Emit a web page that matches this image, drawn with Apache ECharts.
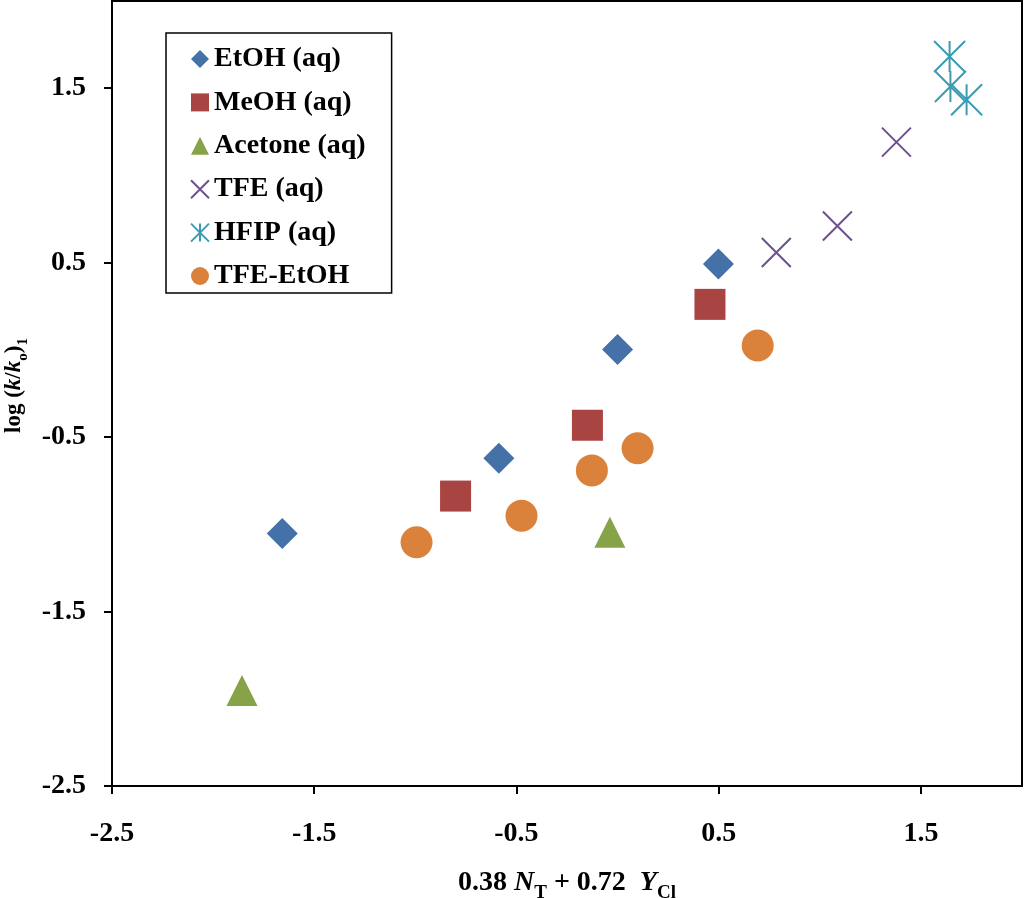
<!DOCTYPE html>
<html>
<head>
<meta charset="utf-8">
<script src="https://cdn.jsdelivr.net/npm/echarts@6/dist/echarts.min.js"></script>
<style>
html,body{margin:0;padding:0;background:#fff;}
#main{width:1024px;height:898px;}
</style>
</head>
<body>
<div id="main"></div>
<script>
// ---- data ----
const xTicks = [-2.5, -1.5, -0.5, 0.5, 1.5];
const yTicks = [-2.5, -1.5, -0.5, 0.5, 1.5];
const etohAq = [[-1.658, -1.052], [-0.587, -0.621], [0.000, 0.002], [0.499, 0.492]];
const meohAq = [[-0.801, -0.838], [-0.149, -0.432], [0.457, 0.261]];
const acetoneAq = [[-1.857, -1.953], [-0.038, -1.045]];
const tfeAq = [[0.785, 0.558], [1.087, 0.710], [1.379, 1.191]];
const hfipAq = [[1.642, 1.682], [1.646, 1.510], [1.726, 1.434]];
const tfeEtoh = [[-0.994, -1.103], [-0.475, -0.951], [-0.127, -0.691], [0.099, -0.564], [0.693, 0.025]];
const seriesNames = ['EtOH (aq)', 'MeOH (aq)', 'Acetone (aq)', 'TFE (aq)', 'HFIP (aq)', 'TFE-EtOH'];

const FONT = '"Liberation Serif", "Times New Roman", serif';
const crossPath = 'path://M0,0L10,10M10,0L0,10';
const starPath = 'path://M0,0L10,10M10,0L0,10M5,0L5,10';

const chart = echarts.init(document.getElementById('main'), null, {renderer: 'canvas'});
chart.setOption({
  animation: false,
  backgroundColor: '#ffffff',
  grid: {left: 112, top: 1, right: 2, bottom: 112, containLabel: false, outerBoundsMode: 'none',
         show: true, borderColor: '#000', borderWidth: 2, backgroundColor: 'transparent'},
  legend: {
    orient: 'vertical', left: 166, top: 33,
    data: seriesNames,
    borderColor: '#000', borderWidth: 1.5, borderRadius: 0,
    padding: [12, 26, 3, 24],
    itemWidth: 18, itemHeight: 18, itemGap: 15.4,
    textStyle: {fontFamily: FONT, fontWeight: 'bold', fontSize: 28, color: '#000', lineHeight: 28},
    selectedMode: false
  },
  xAxis: {
    type: 'value', min: -2.5, max: 2.0, interval: 1,
    axisLine: {onZero: false, lineStyle: {color: '#000', width: 2}},
    axisTick: {show: true, inside: false, length: 8, lineStyle: {color: '#000', width: 2}, customValues: xTicks},
    axisLabel: {customValues: xTicks, margin: 34, fontFamily: FONT, fontWeight: 'bold', fontSize: 28, color: '#000'},
    splitLine: {show: false},
    name: '{n|0.38 }{i|N}{s|T}{n| + 0.72  }{i|Y}{s|Cl}',
    nameLocation: 'middle', nameGap: 81,
    nameTextStyle: {
      rich: {
        n: {fontFamily: FONT, fontWeight: 'bold', fontSize: 28, color: '#000', lineHeight: 30, verticalAlign: 'bottom'},
        i: {fontFamily: FONT, fontWeight: 'bold', fontStyle: 'italic', fontSize: 28, color: '#000', lineHeight: 30, verticalAlign: 'bottom'},
        s: {fontFamily: FONT, fontWeight: 'bold', fontSize: 19, color: '#000', lineHeight: 19, verticalAlign: 'bottom', padding: [0, 0, -6, 0]}
      }
    }
  },
  yAxis: {
    type: 'value', min: -2.5, max: 2.0, interval: 1,
    axisLine: {onZero: false, lineStyle: {color: '#000', width: 2}},
    axisTick: {show: true, inside: false, length: 8, lineStyle: {color: '#000', width: 2}, customValues: yTicks},
    axisLabel: {customValues: yTicks, margin: 26, fontFamily: FONT, fontWeight: 'bold', fontSize: 28, color: '#000'},
    splitLine: {show: false},
    name: '{f|log (}{i|k}{n|/}{i|k}{s|o}{n|)}{s|1}',
    nameLocation: 'middle', nameGap: 84, nameRotate: 90,
    nameTextStyle: {
      rich: {
        f: {fontFamily: FONT, fontWeight: 'bold', fontSize: 23, color: '#000', lineHeight: 24, verticalAlign: 'bottom', padding: [0, 0, 0, 16]},
        n: {fontFamily: FONT, fontWeight: 'bold', fontSize: 23, color: '#000', lineHeight: 24, verticalAlign: 'bottom'},
        i: {fontFamily: FONT, fontWeight: 'bold', fontStyle: 'italic', fontSize: 23, color: '#000', lineHeight: 24, verticalAlign: 'bottom'},
        s: {fontFamily: FONT, fontWeight: 'bold', fontSize: 15, color: '#000', lineHeight: 15, verticalAlign: 'bottom', padding: [0, 0, -5, 0]}
      }
    }
  },
  series: [
    {name: seriesNames[0], type: 'scatter', data: etohAq, symbol: 'diamond', symbolSize: 31, itemStyle: {color: '#4371A8', opacity: 1}},
    {name: seriesNames[1], type: 'scatter', data: meohAq, symbol: 'rect', symbolSize: 31, itemStyle: {color: '#A84442', opacity: 1}},
    {name: seriesNames[2], type: 'scatter', data: acetoneAq, symbol: 'triangle', symbolSize: 31, itemStyle: {color: '#86A34A', opacity: 1}},
    {name: seriesNames[3], type: 'scatter', data: tfeAq, symbol: crossPath, symbolSize: 29, itemStyle: {color: 'transparent', borderColor: '#6D5090', borderWidth: 2, opacity: 1}},
    {name: seriesNames[4], type: 'scatter', data: hfipAq, symbol: starPath, symbolSize: 31, itemStyle: {color: 'transparent', borderColor: '#3B9BB3', borderWidth: 2, opacity: 1}},
    {name: seriesNames[5], type: 'scatter', data: tfeEtoh, symbol: 'circle', symbolSize: 32, itemStyle: {color: '#DA823C', opacity: 1}}
  ]
});
</script>
</body>
</html>
